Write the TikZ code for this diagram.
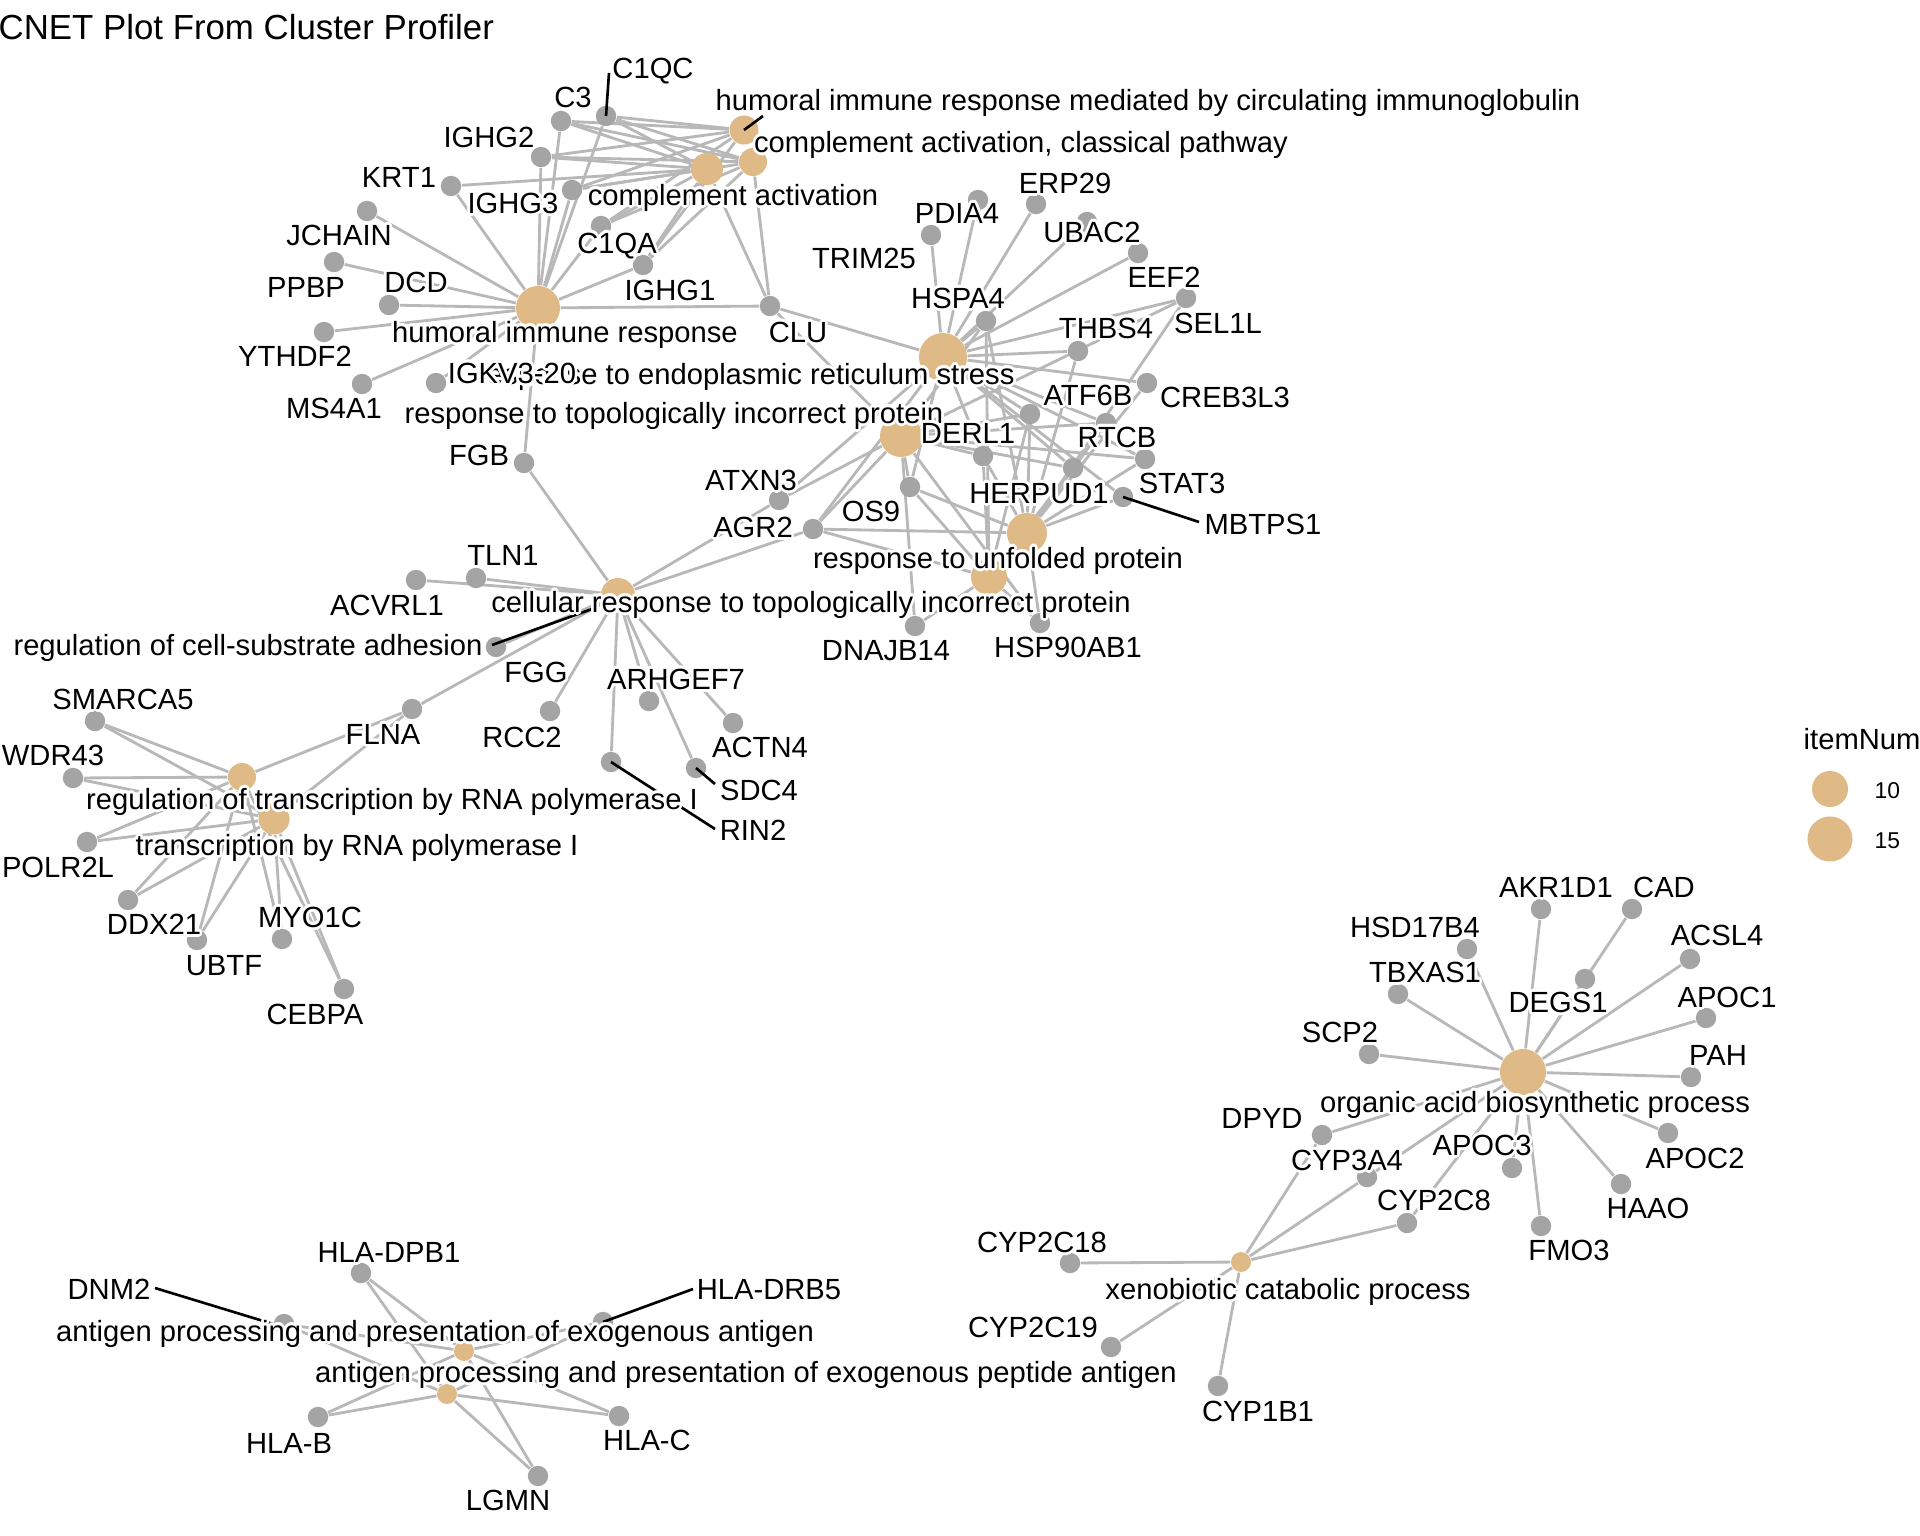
\documentclass[tikz,border=0pt]{standalone}
\usepackage{fontspec}
\setmainfont{Liberation Sans}
\usepackage[copies]{contour}
\contourlength{0.75pt}
\usetikzlibrary{backgrounds}
\definecolor{genegray}{RGB}{164,164,164}
\definecolor{cattan}{RGB}{223,186,134}
\definecolor{edgegray}{RGB}{184,184,184}
\newcommand{\lblfont}{\fontsize{8.3pt}{10pt}\selectfont}
\newcommand{\ttlfont}{\fontsize{9.9pt}{12pt}\selectfont}
\newcommand{\legfont}{\fontsize{6.5pt}{8pt}\selectfont}
\newcommand{\lb}[1]{\contour{white}{#1}}
\tikzset{
  gn/.style={circle, fill=genegray, inner sep=0pt, minimum size=0.204cm},
  ct/.style={circle, fill=cattan, inner sep=0pt, minimum size=#1},
  lnk/.style={draw=edgegray, line width=0.8pt},
  leader/.style={draw=black, line width=0.75pt},
  lbl/.style={inner sep=0pt, text height=5.9pt, text depth=0pt, font=\lblfont},
}
\begin{document}
\begin{tikzpicture}[x=0.01cm, y=-0.01cm]
\useasboundingbox (0,0) rectangle (1920,1536);
% ---------- category nodes ----------
\node[ct=0.44cm] (hir) at (538,308) {};
\node[ct=0.29cm] (hmed) at (744,130) {};
\node[ct=0.32cm] (cact) at (707,169) {};
\node[ct=0.28cm] (ccls) at (753,162) {};
\node[ct=0.48cm] (ers) at (943,357) {};
\node[ct=0.42cm] (topo) at (901,436) {};
\node[ct=0.40cm] (unf) at (1027,533) {};
\node[ct=0.36cm] (ctopo) at (989,577) {};
\node[ct=0.34cm] (adh) at (618,595) {};
\node[ct=0.28cm] (rtr) at (242,777) {};
\node[ct=0.31cm] (tr) at (274,819) {};
\node[ct=0.46cm] (org) at (1523,1072) {};
\node[ct=0.20cm] (xeno) at (1241,1262) {};
\node[ct=0.20cm] (ag1) at (464,1351) {};
\node[ct=0.20cm] (ag2) at (447,1394) {};
% ---------- gene nodes ----------
\foreach \n/\x/\y in {C3/561/121, C1QC/606/116, IGHG2/541/157, KRT1/451/186, IGHG3/572/190,
  JCHAIN/367/211, PPBP/334/262, DCD/389/305, YTHDF2/324/332, MS4A1/362/384, IGKV320/436/383,
  C1QA/601/226, IGHG1/643/265, CLU/770/306, FGB/524/463,
  TRIM25/931/235, PDIA4/978/200, ERP29/1036/204, UBAC2/1087/222, EEF2/1138/253, SEL1L/1186/298,
  HSPA4/986/321, THBS4/1078/351, CREB3L3/1147/383, ATF6B/1030/414, RTCB/1106/423, DERL1/983/456,
  HERPUD1/1073/468, STAT3/1145/459, MBTPS1/1123/497, OS9/910/487, ATXN3/779/500, AGR2/813/529,
  DNAJB14/915/626, HSP90AB1/1040/623,
  TLN1/476/578, ACVRL1/416/580, FGG/496/647, FLNA/412/709, RCC2/550/711, ARHGEF7/649/701,
  ACTN4/733/723, SDC4/696/768, RIN2/611/762,
  SMARCA5/95/721, WDR43/73/778, POLR2L/87/842, DDX21/128/900, UBTF/197/940, MYO1C/282/939, CEBPA/344/989,
  AKR1D1/1541/909, CAD/1632/909, HSD17B4/1467/949, ACSL4/1690/959, TBXAS1/1398/994, DEGS1/1585/979,
  APOC1/1706/1018, SCP2/1369/1054, PAH/1691/1077, DPYD/1322/1135, CYP3A4/1367/1177, APOC3/1512/1168,
  CYP2C8/1407/1223, APOC2/1668/1133, HAAO/1621/1184, FMO3/1541/1226,
  CYP2C18/1070/1263, CYP2C19/1111/1347, CYP1B1/1218/1386,
  HLADPB1/361/1273, DNM2/284/1324, HLADRB5/603/1322, HLAB/318/1417, HLAC/619/1416, LGMN/538/1476}
  \node[gn] (\n) at (\x,\y) {};
% ---------- edges ----------
\begin{scope}[on background layer]
\fill[white] (0,0) rectangle (1920,1536);
\foreach \g in {C3,C1QC,IGHG2,IGHG3,KRT1,JCHAIN,PPBP,DCD,YTHDF2,MS4A1,IGKV320,C1QA,IGHG1,CLU,FGB} \draw[lnk] (hir) -- (\g);
\foreach \g in {C3,C1QC,IGHG2,IGHG3,C1QA,IGHG1} \draw[lnk] (hmed) -- (\g);
\foreach \g in {C3,C1QC,IGHG2,IGHG3,C1QA,IGHG1,CLU} \draw[lnk] (ccls) -- (\g);
\foreach \g in {C3,C1QC,IGHG2,IGHG3,C1QA,IGHG1,CLU,KRT1} \draw[lnk] (cact) -- (\g);
\foreach \g in {CLU,TRIM25,PDIA4,ERP29,UBAC2,EEF2,SEL1L,HSPA4,THBS4,CREB3L3,ATF6B,RTCB,DERL1,HERPUD1,STAT3,MBTPS1,OS9,ATXN3,AGR2} \draw[lnk] (ers) -- (\g);
\foreach \g in {CLU,HSPA4,DERL1,HERPUD1,OS9,ATXN3,AGR2,ATF6B,RTCB,STAT3,DNAJB14,HSP90AB1,SEL1L} \draw[lnk] (topo) -- (\g);
\foreach \g in {HSPA4,THBS4,CREB3L3,ATF6B,RTCB,HERPUD1,STAT3,MBTPS1,DERL1,OS9,AGR2,HSP90AB1,SEL1L} \draw[lnk] (unf) -- (\g);
\foreach \g in {HSPA4,DERL1,HERPUD1,OS9,AGR2,DNAJB14,HSP90AB1,ATF6B} \draw[lnk] (ctopo) -- (\g);
\foreach \g in {ATXN3,AGR2,TLN1,ACVRL1,FGG,FLNA,RCC2,ARHGEF7,RIN2,ACTN4,SDC4,FGB} \draw[lnk] (adh) -- (\g);
\foreach \g in {SMARCA5,WDR43,POLR2L,DDX21,UBTF,MYO1C,CEBPA,FLNA} {\draw[lnk] (rtr) -- (\g); \draw[lnk] (tr) -- (\g);}
\foreach \g in {AKR1D1,CAD,HSD17B4,ACSL4,TBXAS1,DEGS1,APOC1,SCP2,PAH,DPYD,CYP3A4,APOC3,CYP2C8,APOC2,HAAO,FMO3} \draw[lnk] (org) -- (\g);
\foreach \g in {CYP2C18,CYP2C19,CYP1B1,DPYD,CYP3A4,CYP2C8} \draw[lnk] (xeno) -- (\g);
\foreach \g in {HLADPB1,DNM2,HLADRB5,HLAB,HLAC,LGMN} {\draw[lnk] (ag1) -- (\g); \draw[lnk] (ag2) -- (\g);}
\end{scope}
% ---------- leader lines ----------
\coordinate (eC1QC) at (609,73);
\coordinate (eHMED) at (763,116);
\coordinate (eADH) at (592,609);
\coordinate (eADHl) at (492,645);
\coordinate (eMBT) at (1199,522);
\coordinate (eSDC4) at (715,784);
\coordinate (eRIN2) at (715,829);
\coordinate (eDNM2) at (155,1288);
\coordinate (eDRB5) at (693,1289);
\draw[leader] (C1QC.center) -- (eC1QC);
\draw[leader] (hmed.center) -- (eHMED);
\draw[leader] (eADHl) -- (eADH);
\draw[leader] (MBTPS1.center) -- (eMBT);
\draw[leader] (SDC4.center) -- (eSDC4);
\draw[leader] (RIN2.center) -- (eRIN2);
\draw[leader] (DNM2.west) -- (eDNM2);
\draw[leader] (HLADRB5.center) -- (eDRB5);
% ---------- title ----------
\node[anchor=west, inner sep=0pt, text height=7.1pt, text depth=0pt, font=\ttlfont] (title) at (-2,27) {CNET Plot From Cluster Profiler};
% ---------- category labels ----------
\node[lbl] (thir) at (565,332) {\lb{humoral immune response}};
\node[lbl] (thmed) at (1148,100) {\lb{humoral immune response mediated by circulating immunoglobulin}};
\node[lbl] (tccls) at (1021,142) {\lb{complement activation, classical pathway}};
\node[lbl] (tcact) at (733,195) {\lb{complement activation}};
\node[lbl] (ters) at (746,374) {\lb{response to endoplasmic reticulum stress}};
\node[lbl] (ttopo) at (674,413) {\lb{response to topologically incorrect protein}};
\node[lbl] (tunf) at (998,558) {\lb{response to unfolded protein}};
\node[lbl] (tctopo) at (811,602) {\lb{cellular response to topologically incorrect protein}};
\node[lbl] (tadh) at (248,645) {\lb{regulation of cell-substrate adhesion}};
\node[lbl] (trtr) at (392,799) {\lb{regulation of transcription by RNA polymerase I}};
\node[lbl] (ttr) at (357,845) {\lb{transcription by RNA polymerase I}};
\node[lbl] (torg) at (1535,1102) {\lb{organic acid biosynthetic process}};
\node[lbl] (txeno) at (1288,1289) {\lb{xenobiotic catabolic process}};
\node[lbl] (tag1) at (435,1331) {\lb{antigen processing and presentation of exogenous antigen}};
\node[lbl] (tag2) at (746,1372) {\lb{antigen processing and presentation of exogenous peptide antigen}};
% ---------- gene labels ----------
\foreach \n/\x/\y/\t in {
  tC3/573/97/C3, tC1QC/653/68/C1QC, tIGHG2/489/137/IGHG2, tKRT1/399/177/KRT1, tIGHG3/513/203/IGHG3,
  tJCHAIN/339/235/JCHAIN, tPPBP/306/287/PPBP, tDCD/416/282/DCD, tYTHDF2/295/356/YTHDF2, tMS4A1/334/408/MS4A1,
  tIGKV/512/373/IGKV3-20, tC1QA/617/243/C1QA, tIGHG1/670/290/IGHG1, tCLU/798/332/CLU, tFGB/479/455/FGB,
  tPDIA4/957/213/PDIA4, tTRIM25/864/258/TRIM25, tERP29/1065/183/ERP29, tUBAC2/1092/232/UBAC2,
  tEEF2/1164/277/EEF2, tSEL1L/1218/323/SEL1L, tHSPA4/958/298/HSPA4, tTHBS4/1106/328/THBS4,
  tCREB3L3/1225/397/CREB3L3, tATF6B/1088/395/ATF6B, tRTCB/1117/437/RTCB, tDERL1/968/433/DERL1,
  tSTAT3/1182/483/STAT3, tHERPUD1/1039/493/HERPUD1, tMBTPS1/1263/524/MBTPS1, tATXN3/751/480/ATXN3,
  tAGR2/753/527/AGR2, tOS9/871/511/OS9, tDNAJB14/886/650/DNAJB14, tHSP90AB1/1068/647/HSP90AB1,
  tTLN1/503/555/TLN1, tACVRL1/387/605/ACVRL1, tFGG/536/672/FGG, tARHGEF7/676/679/ARHGEF7,
  tACTN4/760/747/ACTN4, tSDC4/759/790/SDC4, tRIN2/753/830/RIN2, tRCC2/522/737/RCC2, tFLNA/383/734/FLNA,
  tSMARCA5/123/699/SMARCA5, tWDR43/53/755/WDR43, tPOLR2L/58/867/POLR2L, tDDX21/154/924/DDX21,
  tUBTF/224/965/UBTF, tMYO1C/310/917/MYO1C, tCEBPA/315/1014/CEBPA,
  tAKR1D1/1556/887/AKR1D1, tCAD/1664/887/CAD, tHSD17B4/1415/927/HSD17B4, tACSL4/1717/935/ACSL4,
  tTBXAS1/1425/972/TBXAS1, tDEGS1/1558/1002/DEGS1, tAPOC1/1727/997/APOC1, tSCP2/1340/1032/SCP2,
  tPAH/1718/1055/PAH, tDPYD/1262/1118/DPYD, tCYP3A4/1347/1160/CYP3A4, tAPOC3/1482/1145/APOC3,
  tAPOC2/1695/1158/APOC2, tHAAO/1648/1208/HAAO, tCYP2C8/1434/1200/CYP2C8, tFMO3/1569/1250/FMO3,
  tCYP2C18/1042/1242/CYP2C18, tCYP2C19/1033/1327/CYP2C19, tCYP1B1/1258/1411/CYP1B1,
  tHLADPB1/389/1252/HLA-DPB1, tDNM2/109/1289/DNM2, tHLADRB5/769/1289/HLA-DRB5,
  tHLAB/289/1443/HLA-B, tHLAC/647/1440/HLA-C, tLGMN/508/1500/LGMN}
  \node[lbl] (\n) at (\x,\y) {\lb{\t}};
% ---------- legend ----------
\node[anchor=west, lbl] (legt) at (1803,739) {itemNum};
\node[ct=0.36cm] (leg10) at (1830,789) {};
\node[ct=0.45cm] (leg15) at (1830,839) {};
\node[anchor=west, inner sep=0pt, text height=4.6pt, text depth=0pt, font=\legfont] (leg10t) at (1874,790) {10};
\node[anchor=west, inner sep=0pt, text height=4.6pt, text depth=0pt, font=\legfont] (leg15t) at (1874,840) {15};
\end{tikzpicture}
\end{document}
